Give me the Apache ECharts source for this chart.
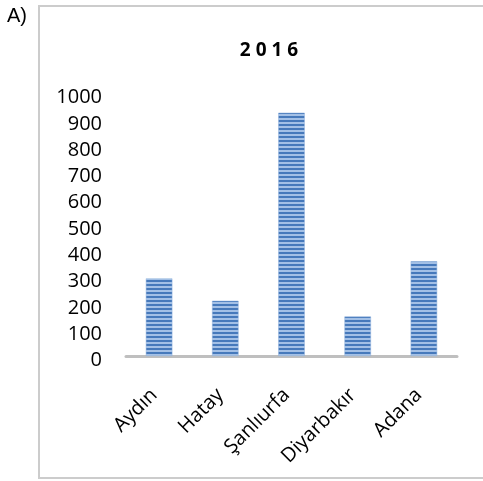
<!DOCTYPE html>
<html>
<head>
<meta charset="utf-8">
<script src="https://cdn.jsdelivr.net/npm/echarts@6/dist/echarts.min.js"></script>
<style>
html,body{margin:0;padding:0;background:#fff;}
#chart{width:483px;height:481px;}
</style>
</head>
<body>
<div id="chart"></div>
<script>
var categories = ['Aydın', 'Hatay', 'Şanlıurfa', 'Diyarbakır', 'Adana'];
var values2016 = [295, 210, 925, 150, 360];
var yTicks = [0, 100, 200, 300, 400, 500, 600, 700, 800, 900, 1000];

function stripePattern() {
  var c = document.createElement('canvas');
  c.width = 8; c.height = 4;
  var ctx = c.getContext('2d');
  ctx.fillStyle = '#a3c0e6';
  ctx.fillRect(0, 0, 8, 4);
  ctx.fillStyle = '#4679bb';
  ctx.fillRect(0, 0, 8, 2);
  return c;
}

var chart = echarts.init(document.getElementById('chart'), null, {renderer: 'canvas'});
var FONT = '"Open Sans", "Noto Sans", sans-serif';
chart.setOption({
  animation: false,
  backgroundColor: '#fff',
  title: {
    text: '2 0 1 6',
    left: 264,
    top: 36,
    textAlign: 'center',
    textStyle: {fontFamily: FONT, fontWeight: 'bold', fontSize: 19, color: '#000'}
  },
  graphic: [
    {type: 'rect', shape: {x: 39, y: 6, width: 470, height: 472}, style: {fill: 'none', stroke: '#cccccc', lineWidth: 2}, silent: true},
    {type: 'text', left: 7, top: 6, style: {text: 'A)', font: '20px "Liberation Sans", Arial, sans-serif', fill: '#000'}}
  ],
  grid: {left: 126, right: 26, top: 93, bottom: 125, containLabel: false},
  xAxis: {
    type: 'category',
    data: categories,
    axisLine: {show: true, lineStyle: {color: '#bfbfbf', width: 3}},
    axisTick: {show: false},
    axisLabel: {rotate: 45, margin: 31, interval: 0,
      formatter: function (v) { return '{c|' + v + '}'; },
      rich: {c: {fontFamily: FONT, fontSize: 20, color: '#000', padding: [0, 7, 0, 0]}}}
  },
  yAxis: {
    type: 'value',
    min: yTicks[0],
    max: yTicks[yTicks.length - 1],
    interval: 100,
    axisLine: {show: false},
    axisTick: {show: false},
    splitLine: {show: false},
    axisLabel: {margin: 24,
      formatter: function (v) { return '{y|' + v + '}'; },
      rich: {y: {fontFamily: FONT, fontSize: 20, color: '#000', padding: [9, 0, 0, 0]}}}
  },
  series: [{
    type: 'bar',
    data: values2016,
    barWidth: '40%',
    itemStyle: {
      color: {image: stripePattern(), repeat: 'repeat'},
      borderColor: '#8fb0dc',
      borderWidth: 0.5
    }
  }]
});
</script>
</body>
</html>
